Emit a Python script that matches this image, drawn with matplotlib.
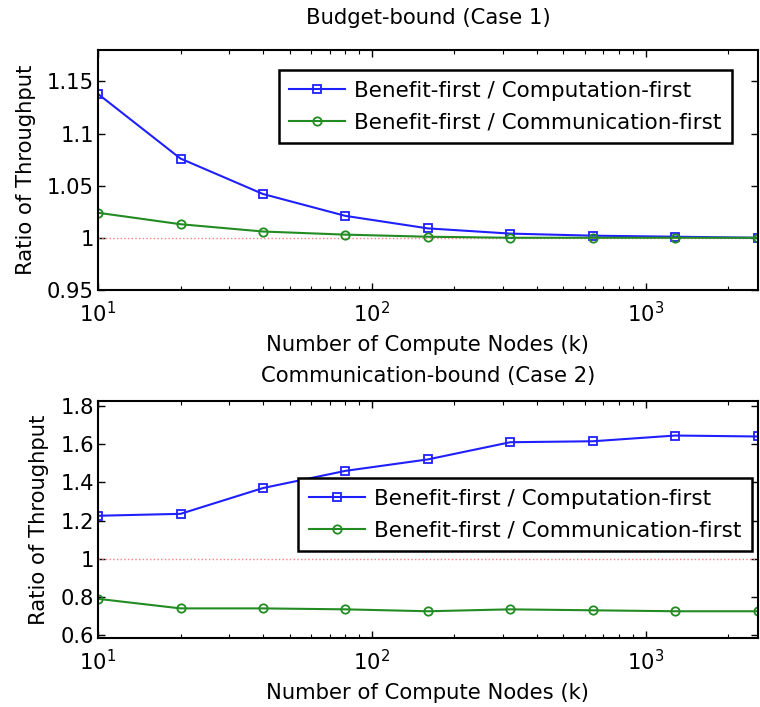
import matplotlib
matplotlib.use("Agg")
import matplotlib.pyplot as plt
from matplotlib.ticker import FixedLocator, FuncFormatter

plt.rcParams['font.family'] = ['DejaVu Sans']
plt.rcParams['mathtext.fontset'] = 'dejavusans'

# number of compute nodes
nodes = [10, 20, 40, 80, 160, 320, 640, 1280, 2560]

# Case 1: budget-bound
case1_comp = [1.138, 1.076, 1.042, 1.021, 1.009, 1.004, 1.002, 1.001, 1.000]
case1_comm = [1.024, 1.013, 1.006, 1.003, 1.001, 1.000, 1.000, 1.000, 1.000]

# Case 2: communication-bound
case2_comp = [1.225, 1.235, 1.370, 1.460, 1.520, 1.610, 1.615, 1.645, 1.640]
case2_comm = [0.790, 0.740, 0.740, 0.735, 0.725, 0.735, 0.730, 0.725, 0.725]

labels = ['Benefit-first / Computation-first', 'Benefit-first / Communication-first']
case1_yticks = [0.95, 1.0, 1.05, 1.1, 1.15]
case2_yticks = [0.6, 0.8, 1.0, 1.2, 1.4, 1.6, 1.8]

fig = plt.figure(figsize=(7.6, 7.07), dpi=100)
ax1 = fig.add_axes([0.129, 0.590, 0.868, 0.339])
ax2 = fig.add_axes([0.129, 0.0976, 0.868, 0.335])

fs = 15.2


def draw(ax, comp, comm, title, ylim, yticks, legend_anchor, tpad):
    ax.plot(nodes, [1] * len(nodes), ':', color='#ff8080', lw=1.0)
    ax.plot(nodes, comp, '-s', color='#2020ff', lw=1.5, ms=6, mfc='none', mew=1.3, label=labels[0])
    ax.plot(nodes, comm, '-o', color='#228b22', lw=1.5, ms=6, mfc='none', mew=1.3, label=labels[1])
    ax.set_xscale('log')
    ax.set_xlim(10, 2560)
    ax.set_ylim(*ylim)
    ax.yaxis.set_major_locator(FixedLocator(yticks))
    ax.yaxis.set_major_formatter(FuncFormatter(lambda v, p: f"{v:g}"))
    ax.tick_params(which='both', direction='in', top=True, right=True, labelsize=fs)
    ax.tick_params(which='major', length=5, width=1)
    ax.tick_params(which='minor', length=3, width=0.8)
    ax.tick_params(axis='x', which='major', pad=8)
    ax.tick_params(axis='y', which='major', pad=3)
    for s in ax.spines.values():
        s.set_linewidth(1.5)
    ax.set_title(title, fontsize=fs, pad=tpad)
    ax.set_xlabel('Number of Compute Nodes (k)', fontsize=fs, labelpad=6)
    ax.set_ylabel('Ratio of Throughput', fontsize=fs, labelpad=8)
    leg = ax.legend(loc='upper right', bbox_to_anchor=legend_anchor, fontsize=15.5,
                    fancybox=False, edgecolor='black', framealpha=1,
                    handlelength=2.6, handletextpad=0.4, borderpad=0.5,
                    labelspacing=0.55, borderaxespad=0)
    leg.get_frame().set_linewidth(1.8)


draw(ax1, case1_comp, case1_comm, 'Budget-bound (Case 1)', (0.95, 1.18), case1_yticks, (0.961, 0.917), 19)
draw(ax2, case2_comp, case2_comm, 'Communication-bound (Case 2)', (0.585, 1.825), case2_yticks, (0.991, 0.675), 14)

fig.savefig('out.png', dpi=100)
